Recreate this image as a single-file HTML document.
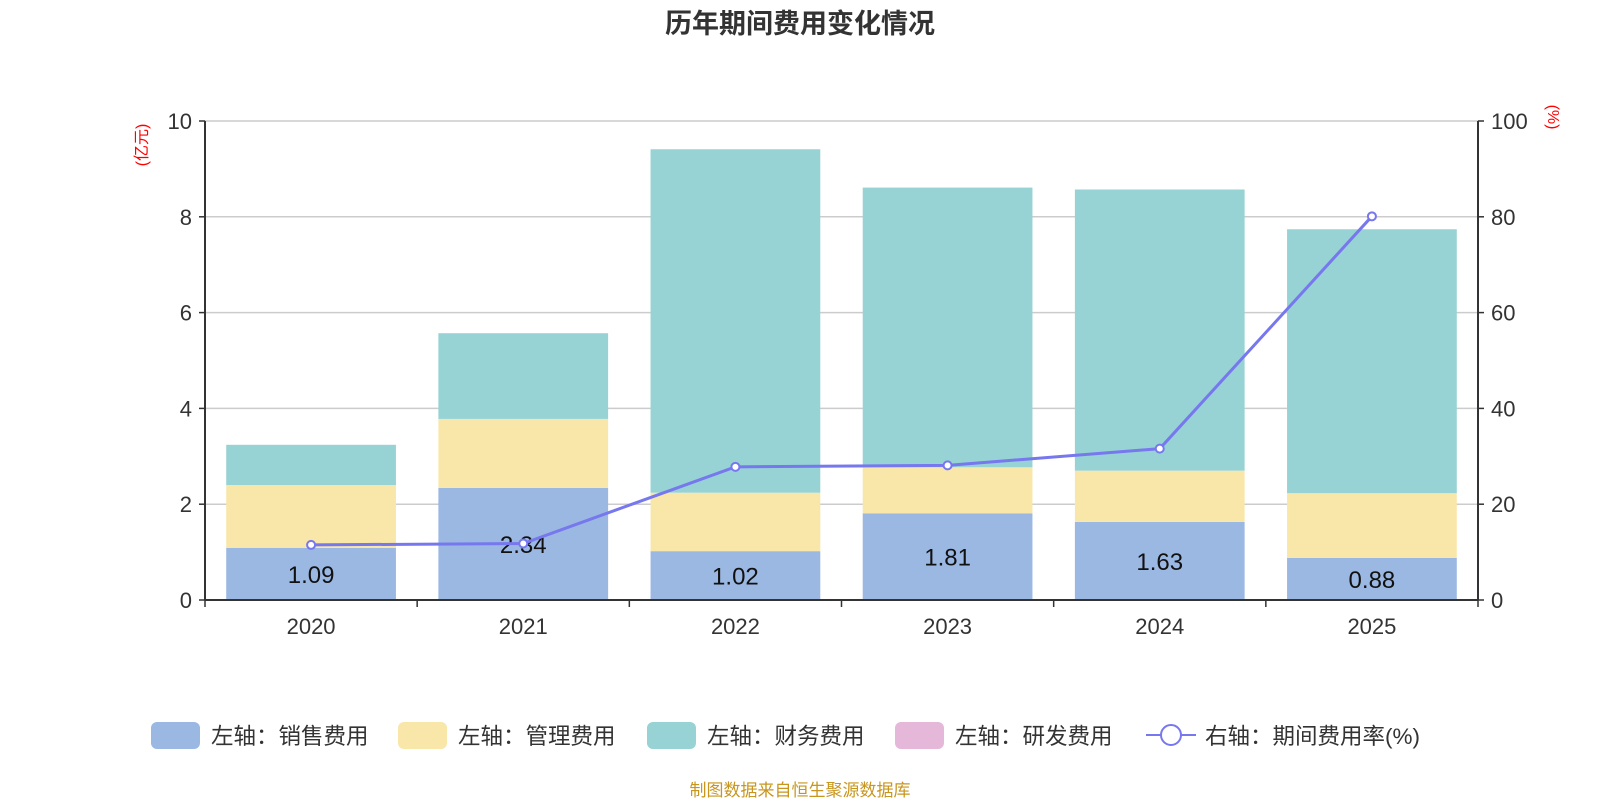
<!DOCTYPE html>
<html><head><meta charset="utf-8"><style>
body{margin:0;background:#fff;}
svg{font-family:"Liberation Sans","Noto Sans CJK SC",sans-serif;}
</style></head><body>
<svg width="1600" height="800" id="c"></svg>
<script>
const categories=["2020","2021","2022","2023","2024","2025"];
const sales=[1.09,2.34,1.02,1.81,1.63,0.88];
const mgmt=[1.31,1.44,1.22,0.96,1.07,1.35];
const fin=[0.84,1.79,7.17,5.84,5.87,5.51];
const rd=[0,0,0,0,0,0];
const rate=[11.5,11.8,27.8,28.1,31.6,80.1];
const leftTicks=[0,2,4,6,8,10];
const rightTicks=[0,20,40,60,80,100];
const NS="http://www.w3.org/2000/svg";
const svg=document.getElementById('c');
const L=205,R=1478,T=121,B=600;
const cw=(R-L)/categories.length;
const yL=v=>B-(v/10)*(B-T);
const yR=v=>B-(v/100)*(B-T);
const xC=i=>L+cw*(i+0.5);
function mk(tag,attrs,txt){const e=document.createElementNS(NS,tag);for(const k in attrs)e.setAttribute(k,attrs[k]);if(txt!=null)e.textContent=txt;svg.appendChild(e);return e;}
let e;
e=mk('text',{x:800,y:33,'text-anchor':'middle','font-size':27,'font-weight':'bold',fill:'#333'},'历年期间费用变化情况');


leftTicks.forEach(t=>{
 e=mk('line',{x1:L,x2:R,y1:yL(t),y2:yL(t),stroke:'#ccc','stroke-width':1.5});
 
 
 e=mk('text',{x:L-13,y:yL(t)+8,'text-anchor':'end','font-size':22,fill:'#333'},t);
 
 
 e=mk('line',{x1:L-6,x2:L,y1:yL(t),y2:yL(t),stroke:'#333','stroke-width':1.5});
 
 
});
rightTicks.forEach(t=>{
 e=mk('line',{x1:R,x2:R+6,y1:yR(t),y2:yR(t),stroke:'#333','stroke-width':1.5});
 
 
 e=mk('text',{x:R+13,y:yR(t)+8,'font-size':22,fill:'#333'},t);
 
 
});
e=mk('text',{transform:'translate(147,145) rotate(-90)','text-anchor':'middle','font-size':16,fill:'red'},'(亿元)');


e=mk('text',{transform:'translate(1548,117) rotate(90)','text-anchor':'middle','font-size':16,fill:'red'},'(%)');


const bw=cw*0.8;
categories.forEach((c,i)=>{
 const segs=[[sales[i],'#9bb8e2','bar-sales'],[mgmt[i],'#f8e7a9','bar-management'],[fin[i],'#97d3d4','bar-finance'],[rd[i],'#e5b8d9','bar-rd']];
 let base=0;
 segs.forEach(s=>{
  if(s[0]>0){
   e=mk('rect',{x:xC(i)-bw/2,y:yL(base+s[0]),width:bw,height:yL(base)-yL(base+s[0]),fill:s[1]});
   
   
  }
  base+=s[0];
 });
 e=mk('text',{x:xC(i),y:(yL(0)+yL(sales[i]))/2+9,'text-anchor':'middle','font-size':24,fill:'#111'},sales[i].toFixed(2));
 
 
 e=mk('text',{x:xC(i),y:634,'text-anchor':'middle','font-size':22,fill:'#333'},c);
 
 
});
for(let i=0;i<=categories.length;i++){
 e=mk('line',{x1:L+cw*i,x2:L+cw*i,y1:B,y2:B+7,stroke:'#333','stroke-width':1.5});
 
 
}
e=mk('line',{x1:L,x2:L,y1:T,y2:B,stroke:'#333','stroke-width':2});


e=mk('line',{x1:R,x2:R,y1:T,y2:B,stroke:'#333','stroke-width':2});


e=mk('line',{x1:L,x2:R,y1:B,y2:B,stroke:'#333','stroke-width':2});


e=mk('polyline',{points:rate.map((v,i)=>xC(i)+','+yR(v)).join(' '),fill:'none',stroke:'#7777ee','stroke-width':3});


rate.forEach((v,i)=>{
 e=mk('circle',{cx:xC(i),cy:yR(v),r:4,fill:'#fff',stroke:'#7777ee','stroke-width':2});
 
 
});
const leg=[[151,'#9bb8e2','左轴：销售费用','legend-sales'],[398,'#f8e7a9','左轴：管理费用','legend-management'],[647,'#97d3d4','左轴：财务费用','legend-finance'],[895,'#e5b8d9','左轴：研发费用','legend-rd']];
leg.forEach(l=>{
 e=mk('rect',{x:l[0],y:722,width:49,height:27,rx:6,fill:l[1]});
 
 
 e=mk('text',{x:l[0]+60,y:744,'font-size':22.5,fill:'#333'},l[2]);
 
 
});
e=mk('line',{x1:1146,x2:1196,y1:735,y2:735,stroke:'#7777ee','stroke-width':2});


e=mk('circle',{cx:1171,cy:735,r:10,fill:'#fff',stroke:'#7777ee','stroke-width':2});


e=mk('text',{x:1205,y:744,'font-size':22.5,fill:'#333'},'右轴：期间费用率(%)');


e=mk('text',{x:800,y:796,'text-anchor':'middle','font-size':17,fill:'#c8961e'},'制图数据来自恒生聚源数据库');


</script>
</body></html>
